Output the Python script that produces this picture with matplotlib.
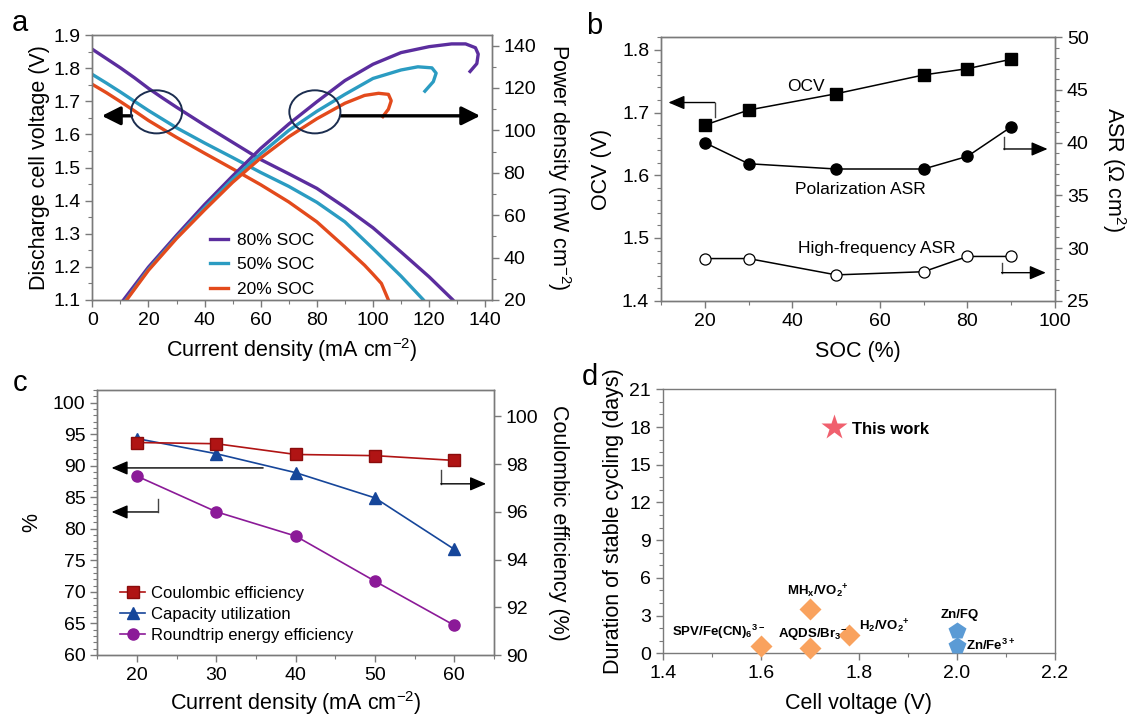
import matplotlib
matplotlib.use("Agg")
import matplotlib.pyplot as plt
from matplotlib.patches import Ellipse
from matplotlib.ticker import MultipleLocator

plt.rcParams["font.family"] = ["Liberation Sans", "DejaVu Sans"]
plt.rcParams["mathtext.fontset"] = "custom"
plt.rcParams["mathtext.rm"] = "Liberation Sans"
plt.rcParams["mathtext.it"] = "Liberation Sans:italic"
plt.rcParams["mathtext.bf"] = "Liberation Sans:bold"

# ---- panel a: polarization curves
cur_80 = [0, 5, 10, 15, 20, 25, 30, 40, 50, 60, 70, 80, 90, 100, 110, 120, 128.5, 132]
volt_80 = [1.857, 1.829, 1.801, 1.771, 1.739, 1.710, 1.682, 1.628, 1.576, 1.524,
           1.481, 1.437, 1.380, 1.318, 1.245, 1.170, 1.100, 1.060]
cur_50 = [0, 5, 10, 15, 20, 30, 40, 50, 60, 70, 80, 90, 100, 110, 118, 121]
volt_50 = [1.781, 1.755, 1.728, 1.700, 1.672, 1.620, 1.574, 1.530, 1.485, 1.443,
           1.395, 1.336, 1.255, 1.172, 1.100, 1.060]
cur_20 = [0, 5, 10, 15, 20, 30, 40, 50, 60, 70, 80, 90, 97, 100, 103, 105.5, 107]
volt_20 = [1.751, 1.726, 1.699, 1.671, 1.642, 1.591, 1.543, 1.496, 1.448, 1.396,
           1.336, 1.260, 1.205, 1.178, 1.150, 1.100, 1.060]

pcur_80 = [11.1, 20, 30, 40, 50, 60, 70, 80, 90, 100, 110, 120, 128, 133, 136.5, 137.5, 137, 134.6]
power_80 = [20, 35.5, 50.5, 65, 78.5, 91.5, 103, 113.5, 123.5, 131.2, 136.7, 139.5,
            140.8, 140.8, 139, 136, 131.5, 127.8]
pcur_50 = [12, 20, 30, 40, 50, 60, 70, 80, 90, 100, 110, 116, 121, 122.5, 121.5, 118.5]
power_50 = [20, 34.5, 49.5, 63.5, 77, 89, 100, 109, 117, 124.5, 128.5, 130, 129.5, 127, 123, 118.5]
pcur_20 = [12.2, 20, 30, 40, 50, 60, 70, 80, 90, 97, 102, 105.5, 106.5, 105.5, 103.5]
power_20 = [20, 34, 49, 62.5, 75.5, 87, 97, 105.5, 112.8, 116.5, 117.5, 117, 114, 110, 106.5]

soc_labels = ["80% SOC", "50% SOC", "20% SOC"]
soc_colors = ["#5b2d9e", "#2b9cc2", "#e34a1c"]

# ---- panel b: OCV and ASR vs SOC
soc = [20, 30, 50, 70, 80, 90]
ocv = [1.680, 1.704, 1.730, 1.760, 1.770, 1.785]
asr_pol = [40.0, 38.0, 37.5, 37.5, 38.7, 41.5]
asr_hf = [29.0, 29.0, 27.45, 27.75, 29.2, 29.2]

# ---- panel c: efficiencies vs current density
cd = [20, 30, 40, 50, 60]
coulombic = [98.9, 98.85, 98.4, 98.35, 98.15]
capacity = [94.3, 91.9, 88.9, 84.9, 76.75]
roundtrip = [88.35, 82.7, 78.85, 71.7, 64.7]

# ---- panel d: comparison with literature
lit_names = ["SPV/Fe(CN)$_\\mathbf{6}$$^\\mathbf{3-}$", "MH$_\\mathbf{x}$/VO$_\\mathbf{2}$$^\\mathbf{+}$",
             "AQDS/Br$_\\mathbf{3}$$^\\mathbf{-}$", "H$_\\mathbf{2}$/VO$_\\mathbf{2}$$^\\mathbf{+}$"]
lit_volt = [1.60, 1.70, 1.70, 1.78]
lit_days = [0.55, 3.55, 0.40, 1.45]
zn_names = ["Zn/FQ", "Zn/Fe$^\\mathbf{3+}$"]
zn_volt = [2.0, 2.0]
zn_days = [1.8, 0.6]
this_volt = [1.75]
this_days = [18.0]

W, H = 1128, 715
GREY = "#7a7a7a"


def box(l, t, r, b):
    return [l / W, 1 - b / H, (r - l) / W, (b - t) / H]


def style(ax):
    for s in ax.spines.values():
        s.set_color(GREY)
        s.set_linewidth(1.0)
    ax.tick_params(which="both", direction="out", colors=GREY, labelcolor="black", labelsize=14)
    ax.tick_params(which="major", length=5, width=1)
    ax.tick_params(which="minor", length=3, width=0.8)


def corner_arrow(ax, x0, y0, y1, x1, trans=None):
    # short vertical stub, then a horizontal arrow pointing at the axis
    trans = ax.transData if trans is None else trans
    ax.plot([x0, x0], [y0, y1], color="#444444", lw=1.0, transform=trans)
    ax.annotate("", xy=(x1, y1), xytext=(x0, y1), xycoords=trans, textcoords=trans,
                arrowprops=dict(arrowstyle="-|>,head_length=0.7,head_width=0.3",
                                color="black", lw=1.0, mutation_scale=14,
                                shrinkA=0, shrinkB=0))


fig = plt.figure(figsize=(W / 100, H / 100), dpi=100)

# ================= panel a
axa = fig.add_axes(box(92.3, 35, 491.7, 300))
axa2 = axa.twinx()
style(axa)
style(axa2)
handles = []
for cur, volt, col, lab in zip([cur_80, cur_50, cur_20], [volt_80, volt_50, volt_20],
                               soc_colors, soc_labels):
    h, = axa.plot(cur, volt, color=col, lw=2.4, label=lab)
    handles.append(h)
for cur, pw, col in zip([pcur_80, pcur_50, pcur_20], [power_80, power_50, power_20], soc_colors):
    axa2.plot(cur, pw, color=col, lw=2.4)
axa.set_xlim(0, 142.3)
axa.set_ylim(1.1, 1.9)
axa2.set_ylim(20, 145)
axa.xaxis.set_major_locator(MultipleLocator(20))
axa.xaxis.set_minor_locator(MultipleLocator(10))
axa.yaxis.set_major_locator(MultipleLocator(0.1))
axa.yaxis.set_minor_locator(MultipleLocator(0.05))
axa2.yaxis.set_major_locator(MultipleLocator(20))
axa2.yaxis.set_minor_locator(MultipleLocator(10))
axa.set_xlabel("Current density (mA cm$^{-2}$)", fontsize=15.5, labelpad=5)
axa.set_ylabel("Discharge cell voltage (V)", fontsize=15.5, labelpad=2)
axa2.set_ylabel("Power density (mW cm$^{-2}$)", fontsize=15.5, rotation=270, va="bottom", labelpad=6)
tr = axa.transData
for cx in (22.9, 79.3):
    axa2.add_patch(Ellipse((cx, 1.668), 18.2, 0.13, transform=tr, fill=False,
                           edgecolor="#1b2d4f", lw=1.4, zorder=5))
big = dict(arrowstyle="-|>,head_length=0.8,head_width=0.4", color="black", lw=2.4,
           mutation_scale=14, shrinkA=0, shrinkB=0)
axa2.annotate("", xy=(3.4, 1.656), xytext=(14.0, 1.656), xycoords=tr, textcoords=tr, arrowprops=big)
axa2.annotate("", xy=(138.2, 1.656), xytext=(88.5, 1.656), xycoords=tr, textcoords=tr, arrowprops=big)
axa2.legend(handles=handles, loc="upper left", bbox_to_anchor=(0.294, 0.255), frameon=False,
            fontsize=12.5, handlelength=1.05, handletextpad=0.5, labelspacing=0.55,
            borderpad=0, borderaxespad=0)

# ================= panel b
axb = fig.add_axes(box(661, 37.3, 1055, 300.7))
axb2 = axb.twinx()
style(axb)
style(axb2)
axb.plot(soc, ocv, "-s", color="black", ms=8, lw=1.1)
axb2.plot(soc, asr_pol, "-o", color="black", ms=8, lw=1.1)
axb2.plot(soc, asr_hf, "-o", color="black", mfc="white", ms=8, mew=0.9, lw=1.1)
axb.set_xlim(10, 100)
axb.set_ylim(1.4, 1.82)
axb2.set_ylim(25, 50)
axb.xaxis.set_major_locator(MultipleLocator(20))
axb.xaxis.set_minor_locator(MultipleLocator(10))
axb.yaxis.set_major_locator(MultipleLocator(0.1))
axb.yaxis.set_minor_locator(MultipleLocator(0.02))
axb2.yaxis.set_major_locator(MultipleLocator(5))
axb2.yaxis.set_minor_locator(MultipleLocator(1))
axb.set_xlabel("SOC (%)", fontsize=15.5, labelpad=8.5)
axb.set_ylabel("OCV (V)", fontsize=15.5, labelpad=7)
axb2.set_ylabel("ASR ($\\Omega$ cm$^2$)", fontsize=15.5, rotation=270, va="bottom", labelpad=8)
axb.text(43, 1.7415, "OCV", fontsize=12.5, ha="center", va="center")
axb2.text(55.6, 35.6, "Polarization ASR", fontsize=12.5, ha="center", va="center")
axb2.text(59.4, 30.0, "High-frequency ASR", fontsize=12.5, ha="center", va="center")
corner_arrow(axb, 22.3, 1.6926, 1.716, 11.7)
corner_arrow(axb2, 88.3, 40.57, 39.4, 98.3)
corner_arrow(axb2, 87.8, 28.55, 27.66, 97.9)

# ================= panel c
axc = fig.add_axes(box(97.3, 390, 494, 655))
axc2 = axc.twinx()
style(axc)
style(axc2)
h2, = axc.plot(cd, capacity, "-^", color="#16469a", ms=8.5, lw=1.2, label="Capacity utilization")
h3, = axc.plot(cd, roundtrip, "-o", color="#8b1a98", ms=8, lw=1.2, label="Roundtrip energy efficiency")
h1, = axc2.plot(cd, coulombic, "-s", color="#b01414", mec="#8a0c0c", ms=8, lw=1.2,
                label="Coulombic efficiency")
axc.set_xlim(15, 65)
axc.set_ylim(60, 102)
axc2.set_ylim(90, 101.1)
axc.xaxis.set_major_locator(MultipleLocator(10))
axc.xaxis.set_minor_locator(MultipleLocator(5))
axc.yaxis.set_major_locator(MultipleLocator(5))
axc.yaxis.set_minor_locator(MultipleLocator(1))
axc2.yaxis.set_major_locator(MultipleLocator(2))
axc.set_xlabel("Current density (mA cm$^{-2}$)", fontsize=15.5, labelpad=3.5)
axc.set_ylabel("%", fontsize=15.5, labelpad=7.5)
axc2.set_ylabel("Coulombic efficiency (%)", fontsize=15.5, rotation=270, va="bottom", labelpad=7)
trc = axc.transData
axc2.annotate("", xy=(16.8, 89.65), xytext=(35.9, 89.65), xycoords=trc, textcoords=trc,
              arrowprops=dict(arrowstyle="-|>,head_length=0.7,head_width=0.3", color="black",
                              lw=1.0, mutation_scale=14, shrinkA=0, shrinkB=0))
corner_arrow(axc2, 22.6, 84.8, 82.67, 16.8, trans=trc)
corner_arrow(axc2, 58.3, 97.77, 97.17, 64.0)
axc2.legend(handles=[h1, h2, h3], loc="upper left", bbox_to_anchor=(0.058, 0.26), frameon=False,
            fontsize=12, handlelength=1.5, handletextpad=0.35, labelspacing=0.36,
            borderpad=0, borderaxespad=0)

# ================= panel d
axd = fig.add_axes(box(663, 389.3, 1054.6, 653.3))
style(axd)
axd.plot(lit_volt, lit_days, "D", color="#f9a25e", ms=11, mec="none", clip_on=False, zorder=3)
axd.plot(zn_volt, zn_days, "p", color="#5b9bd5", ms=13, mec="none", clip_on=False, zorder=3)
axd.plot(this_volt, this_days, "*", color="#f0606e", ms=19, mec="none", zorder=3)
axd.set_xlim(1.4, 2.2)
axd.set_ylim(0, 21)
axd.xaxis.set_major_locator(MultipleLocator(0.2))
axd.xaxis.set_minor_locator(MultipleLocator(0.1))
axd.yaxis.set_major_locator(MultipleLocator(3))
axd.yaxis.set_minor_locator(MultipleLocator(1))
axd.set_xlabel("Cell voltage (V)", fontsize=15.5, labelpad=7.5)
axd.set_ylabel("Duration of stable cycling (days)", fontsize=15.5, labelpad=4)
axd.text(1.786, 17.8, "This work", fontsize=12, fontweight="bold", ha="left", va="center")
lab_pos = [(1.608, 1.7, "right"), (1.716, 4.95, "center"), (1.634, 1.45, "left"), (1.80, 2.15, "left")]
for name, (lx, ly, ha) in zip(lit_names, lab_pos):
    axd.text(lx, ly, name, fontsize=9.5, fontweight="bold", ha=ha, va="center")
axd.text(2.006, 3.05, zn_names[0], fontsize=9.5, fontweight="bold", ha="center", va="center")
axd.text(2.019, 0.62, zn_names[1], fontsize=9.5, fontweight="bold", ha="left", va="center")

# panel letters
for lx, ly, letter in [(20, 23, "a"), (594, 26, "b"), (20, 383, "c"), (590, 377, "d")]:
    fig.text(lx / W, 1 - ly / H, letter, fontsize=21, ha="center", va="center")

fig.savefig("out.png", dpi=100)
